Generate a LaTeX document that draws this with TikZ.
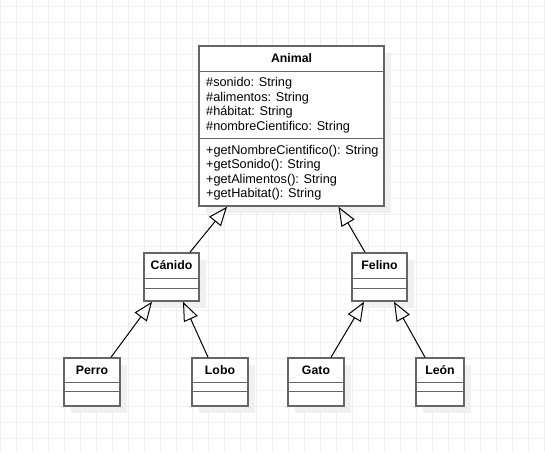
\documentclass[tikz,border=0pt]{standalone}
\usepackage{fontspec}
\setmainfont{Liberation Sans}
\usetikzlibrary{arrows.meta,shadows}
\definecolor{gridgray}{HTML}{EEEEEE}
\definecolor{boxgray}{HTML}{666666}
\definecolor{shadowgray}{HTML}{F0F0F0}

\begin{document}
\begin{tikzpicture}[x=1pt,y=-1pt,>={Triangle[open,length=19pt,width=15pt]}]
\tikzstyle{classbox}=[rectangle,draw=boxgray,line width=1.5pt,fill=white,inner sep=0pt,drop shadow={shadow xshift=7pt,shadow yshift=-7pt,fill=shadowgray,opacity=1,draw=none}]
\tikzstyle{classname}=[font=\fontsize{12.3}{14}\selectfont\bfseries,inner sep=0pt,anchor=base]
\tikzstyle{member}=[font=\fontsize{12.7}{14}\selectfont,inner sep=0pt,anchor=base west]
\tikzstyle{sep}=[draw=boxgray,line width=1.5pt]
\tikzstyle{inherit}=[->,line width=1pt]
\useasboundingbox (0,0) rectangle (545,451);
% background grid
\foreach \x in {0,16,...,544} \draw[gridgray,line width=1pt] (\x,0) -- (\x,451);
\foreach \y in {6,22,...,450} \draw[gridgray,line width=1pt] (0,\y) -- (545,\y);
% superclass
\node[classbox,minimum width=185pt,minimum height=160pt] (animal) at (291.5,126) {};
\node[classname] (animaltitle) at ([yshift=-17.3pt]animal.north) {Animal};
\draw[sep] ([yshift=-26pt]animal.north west) -- ([yshift=-26pt]animal.north east);
\draw[sep] ([yshift=-93pt]animal.north west) -- ([yshift=-93pt]animal.north east);
\foreach \txt [count=\i from 0] in {{\#sonido: String},{\#alimentos: String},{\#hábitat: String},{\#nombreCientifico: String}}
  \node[member] (attr\i) at (206,{86.3+14.7*\i}) {\txt};
\foreach \txt [count=\i from 0] in {{+getNombreCientifico(): String},{+getSonido(): String},{+getAlimentos(): String},{+getHabitat(): String}}
  \node[member] (meth\i) at (206,{154+14.6*\i}) {\txt};
% families
\foreach \name/\cx/\txt in {canido/171.5/Cánido,felino/379.5/Felino}{
  \node[classbox,minimum width=55pt,minimum height=48pt] (\name) at (\cx,277) {};
  \node[classname] (\name title) at ([yshift=-17.3pt]\name.north) {\txt};
  \draw[sep] ([yshift=-26pt]\name.north west) -- ([yshift=-26pt]\name.north east);
  \draw[sep] ([yshift=-36pt]\name.north west) -- ([yshift=-36pt]\name.north east);
}
% species
\foreach \name/\cx/\w/\txt in {perro/92/56/Perro,lobo/220/56/Lobo,gato/316/56/Gato,leon/440/48/León}{
  \node[classbox,minimum width=\w pt,minimum height=48pt] (\name) at (\cx,382) {};
  \node[classname] (\name title) at ([yshift=-16.8pt]\name.north) {\txt};
  \draw[sep] ([yshift=-25pt]\name.north west) -- ([yshift=-25pt]\name.north east);
  \draw[sep] ([yshift=-34pt]\name.north west) -- ([yshift=-34pt]\name.north east);
}
% generalization
\draw[inherit] ([xshift=18.5pt]canido.north) -- ([xshift=-64.5pt]animal.south);
\draw[inherit] ([xshift=-14.5pt]felino.north) -- ([xshift=47pt]animal.south);
\draw[inherit] ([xshift=19pt]perro.north) -- ([xshift=-19.5pt]canido.south);
\draw[inherit] ([xshift=-12pt]lobo.north) -- ([xshift=11.5pt]canido.south);
\draw[inherit] ([xshift=15pt]gato.north) -- ([xshift=-15.5pt]felino.south);
\draw[inherit] ([xshift=-15pt]leon.north) -- ([xshift=14.5pt]felino.south);
\end{tikzpicture}
\end{document}
